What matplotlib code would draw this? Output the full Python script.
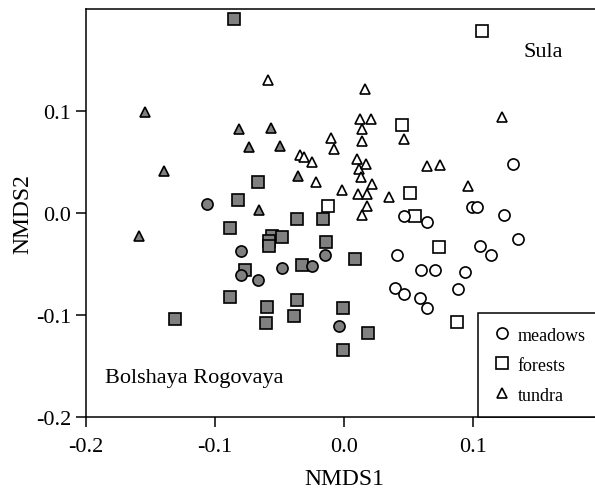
import matplotlib
matplotlib.use("Agg")
import matplotlib.pyplot as plt
from matplotlib.lines import Line2D

plt.rcParams['font.family'] = ['Liberation Serif', 'DejaVu Serif']
plt.rcParams['axes.unicode_minus'] = False

# Bolshaya Rogovaya (grey filled)
br_meadows_x = [-0.1064, -0.0801, -0.0484, -0.0798, -0.0664, -0.0248, -0.0149, -0.0036]
br_meadows_y = [0.0090, -0.0371, -0.0538, -0.0610, -0.0656, -0.0516, -0.0410, -0.1108]

br_forests_x = [-0.0853, -0.0669, -0.0823, -0.0362, -0.0160, -0.0884, -0.0560, -0.0478,
                -0.0579, -0.0584, -0.0140, -0.0767, -0.0322, 0.0085, -0.0884, -0.0595,
                -0.0367, -0.0605, -0.0385, -0.0005, -0.0008, -0.1310, 0.0184]
br_forests_y = [0.1901, 0.0302, 0.0123, -0.0059, -0.0056, -0.0150, -0.0223, -0.0239,
                -0.0272, -0.0327, -0.0288, -0.0558, -0.0514, -0.0449, -0.0819, -0.0917,
                -0.0853, -0.1082, -0.1006, -0.0929, -0.1342, -0.1039, -0.1180]

br_tundra_x = [-0.1543, -0.0812, -0.0566, -0.0734, -0.0496, -0.1398, -0.0353, -0.0657, -0.1587]
br_tundra_y = [0.0993, 0.0819, 0.0836, 0.0649, 0.0656, 0.0416, 0.0364, 0.0032, -0.0229]

# Sula (open)
su_meadows_x = [0.1308, 0.0467, 0.0641, 0.0995, 0.1029, 0.1240, 0.1351, 0.1054, 0.1137,
                0.0409, 0.0595, 0.0705, 0.0938, 0.0395, 0.0467, 0.0589, 0.0641, 0.0886]
su_meadows_y = [0.0482, -0.0032, -0.0091, 0.0056, 0.0056, -0.0017, -0.0253, -0.0322, -0.0410,
                -0.0410, -0.0558, -0.0558, -0.0583, -0.0731, -0.0796, -0.0836, -0.0927, -0.0747]

su_forests_x = [0.1067, 0.0452, -0.0126, 0.0512, 0.0550, 0.0739, 0.0878]
su_forests_y = [0.1787, 0.0858, 0.0072, 0.0194, -0.0029, -0.0334, -0.1065]

su_tundra_x = [-0.0593, -0.0097, -0.0075, -0.0341, -0.0310, -0.0246, -0.0217, -0.0016,
               0.0163, 0.0124, 0.0207, 0.0140, 0.0142, 0.0467, 0.0103, 0.0119, 0.0171,
               0.0129, 0.0219, 0.0106, 0.0178, 0.0347, 0.0176, 0.0142, 0.0646, 0.0744,
               0.0964, 0.1227]
su_tundra_y = [0.1303, 0.0740, 0.0626, 0.0573, 0.0548, 0.0504, 0.0308, 0.0221,
               0.1212, 0.0924, 0.0917, 0.0819, 0.0705, 0.0728, 0.0534, 0.0433, 0.0482,
               0.0351, 0.0285, 0.0187, 0.0190, 0.0154, 0.0066, -0.0023, 0.0459, 0.0475,
               0.0265, 0.0944]

grey = '#808080'
ew = 1.2
ms_sq, ms_ci, ms_tr = 8.0, 8.0, 7.6

fig = plt.figure(figsize=(5.95, 4.89), dpi=100)
ax = fig.add_axes([86 / 595, 71 / 489, 516 / 595, 408 / 489])

def draw(x, y, marker, ms, fill):
    ax.plot(x, y, ls='none', marker=marker, ms=ms, mfc=fill, mec='black', mew=ew)

draw(su_forests_x, su_forests_y, 's', ms_sq, 'white')
draw(su_meadows_x, su_meadows_y, 'o', ms_ci, 'white')
draw(su_tundra_x, su_tundra_y, '^', ms_tr, 'white')
draw(br_forests_x, br_forests_y, 's', ms_sq, grey)
draw(br_meadows_x, br_meadows_y, 'o', ms_ci, grey)
draw(br_tundra_x, br_tundra_y, '^', ms_tr, grey)

ax.set_xlim(-0.2, 0.2)
ax.set_ylim(-0.2, 0.2)
ax.set_xticks([-0.2, -0.1, 0.0, 0.1])
ax.set_yticks([-0.2, -0.1, 0.0, 0.1])
ax.set_xticklabels(['-0.2', '-0.1', '0.0', '0.1'])
ax.set_yticklabels(['-0.2', '-0.1', '0.0', '0.1'])
ax.tick_params(direction='out', length=7.2, width=1.1, labelsize=16, pad=3.5)
ax.tick_params(axis='x', pad=7)
for s in ax.spines.values():
    s.set_linewidth(1.1)

ax.set_xlabel('NMDS1', fontsize=17, labelpad=9)
ax.set_ylabel('NMDS2', fontsize=17, labelpad=2)

ax.text(0.847, 0.897, 'Sula', transform=ax.transAxes, fontsize=16, va='center', ha='left')
ax.text(0.037, 0.098, 'Bolshaya Rogovaya', transform=ax.transAxes, fontsize=16,
        va='center', ha='left')

handles = [
    Line2D([], [], ls='none', marker='o', ms=ms_ci, mfc='white', mec='black', mew=ew),
    Line2D([], [], ls='none', marker='s', ms=ms_sq, mfc='white', mec='black', mew=ew),
    Line2D([], [], ls='none', marker='^', ms=ms_tr, mfc='white', mec='black', mew=ew),
]
leg = ax.legend(handles, ['meadows', 'forests', 'tundra'], loc='upper left',
                bbox_to_anchor=(0.760, 0.0, 0.26, 0.255), mode='expand', borderaxespad=0,
                fontsize=13, handlelength=1.1, handletextpad=0.35, labelspacing=0.72,
                borderpad=0.75, fancybox=False, edgecolor='black', framealpha=1)
leg.get_frame().set_linewidth(1.1)

fig.savefig('out.png', dpi=100)
